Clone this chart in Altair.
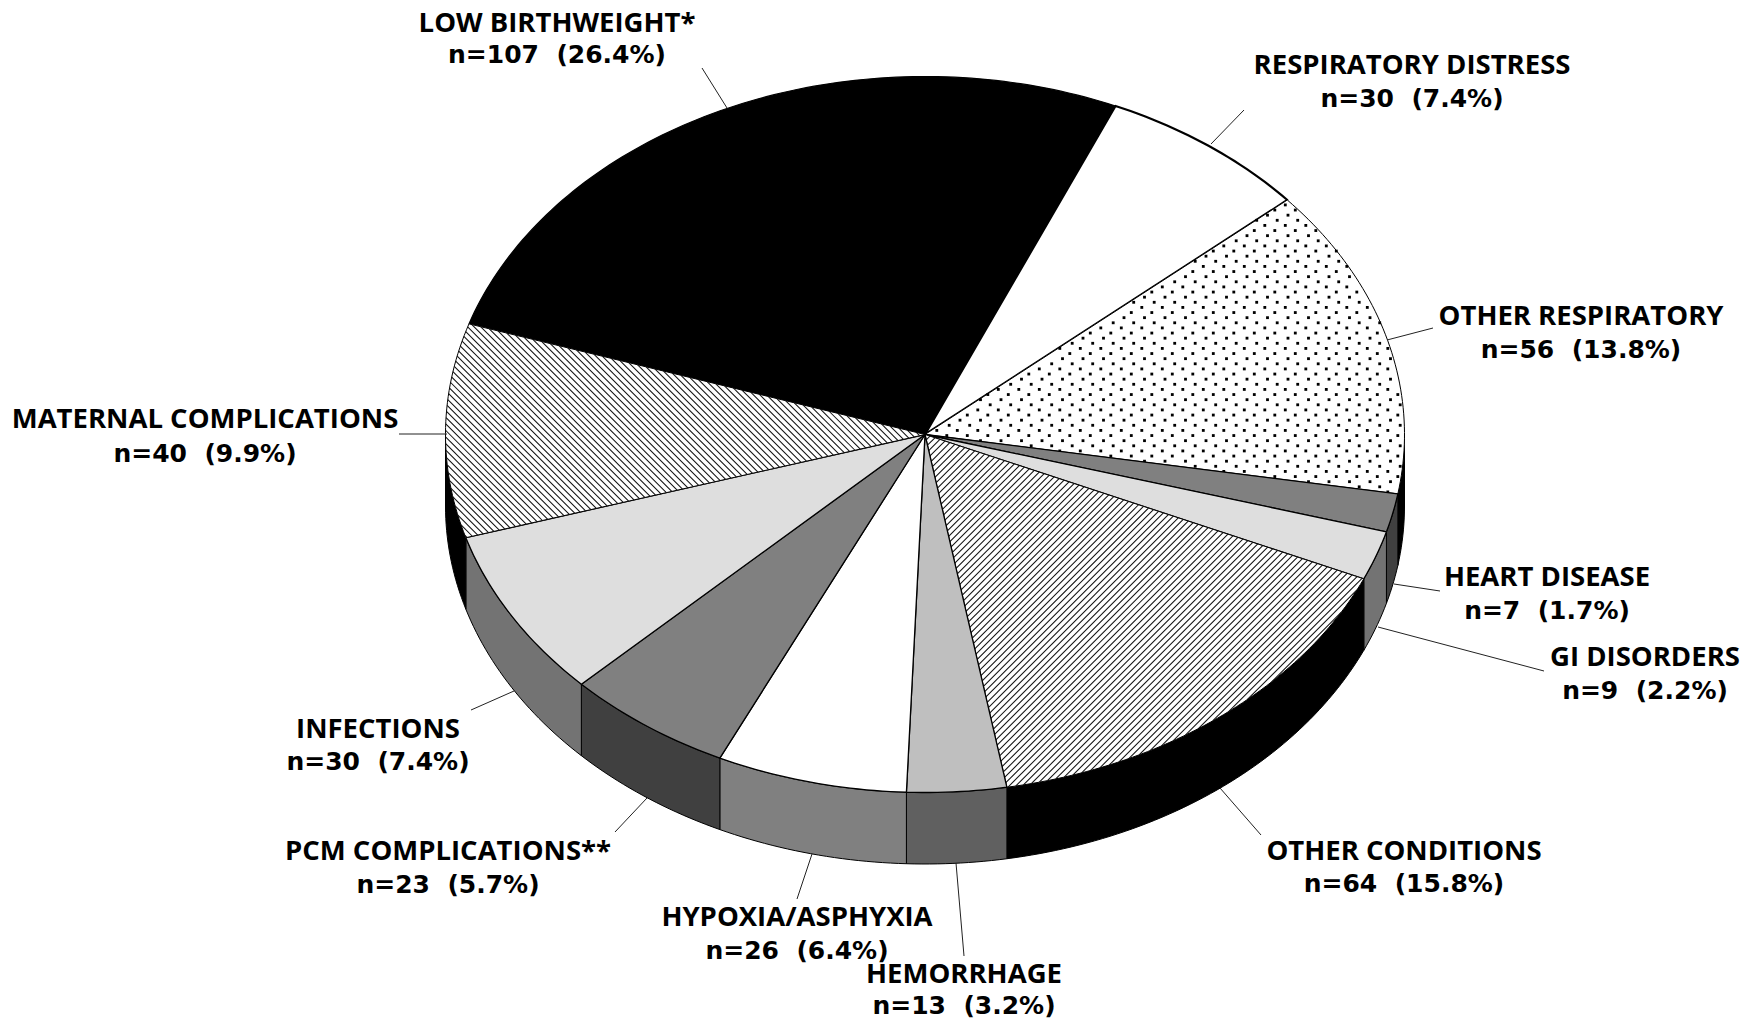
import math
import altair as alt
import pandas as pd

# ---- chart values ----
categories = ["LOW BIRTHWEIGHT*", "RESPIRATORY DISTRESS", "OTHER RESPIRATORY", "HEART DISEASE",
              "GI DISORDERS", "OTHER CONDITIONS", "HEMORRHAGE", "HYPOXIA/ASPHYXIA",
              "PCM COMPLICATIONS**", "INFECTIONS", "MATERNAL COMPLICATIONS"]
counts = [107, 30, 56, 7, 9, 64, 13, 26, 23, 30, 40]
percents = [26.4, 7.4, 13.8, 1.7, 2.2, 15.8, 3.2, 6.4, 5.7, 7.4, 9.9]

# ---- styles ----
top_colors = ["#000000", "#ffffff", "#ffffff", "#808080", "#dedede", "#ffffff", "#bfbfbf",
              "#ffffff", "#808080", "#dedede", "#ffffff"]
side_colors = ["#000000", "#000000", "#000000", "#404040", "#737373", "#000000", "#606060",
               "#808080", "#404040", "#737373", "#000000"]
top_widths = [1.2, 2.2, 1.0, 1.3, 1.3, 1.0, 1.3, 1.3, 1.3, 1.3, 1.0]
patterns = [None, None, "dots", None, None, "fwd", None, None, None, None, "back"]

# ---- layout (pixels of the picture) ----
CX, CY, RX, RY, DEPTH = 925.0, 434.5, 479.5, 358.0, 71.5
START = -162.0
edge_nudges = [0, 0.3, -0.7, 0, 0, 0, -0.5, 0, 0, 0, 0.8, 0]  # drawn edges differ slightly from exact shares
label_x = [557, 1412, 1581, 1547, 1645, 1404, 964, 797, 448, 378, 205]
label_y1 = [24, 66, 317, 578, 658, 852, 975, 918, 852, 730, 420]
label_y2 = [55, 99, 350, 611, 691, 884, 1006, 951, 885, 762, 454]
lead_x1 = [702, 1244, 1433, 1440, 1544, 1261, 964, 797, 615, 471, 399]
lead_y1 = [68, 110, 328, 591, 671, 835, 956, 899, 832, 710, 434]
lead_x2 = [727, 1211, 1387, 1394, 1378, 1220, 956, 812, 647, 514, 447]
lead_y2 = [108, 144, 340, 584, 627, 788, 863, 854, 798, 691, 434]

total = sum(counts)
edges = [START]
for c in counts:
    edges.append(edges[-1] + 360.0 * c / total)
edges = [e + n for e, n in zip(edges, edge_nudges)]


def pt(t, dy=0.0):
    r = math.radians(t)
    return CX + RX * math.cos(r), CY + RY * math.sin(r) + dy


def arc(a, b, dy=0.0):
    n = max(2, int(abs(b - a)) + 2)
    return [pt(a + (b - a) * i / (n - 1), dy) for i in range(n)]


X = alt.X("x:Q", axis=None, scale=alt.Scale(domain=[8, 1750], nice=False, zero=False))
Y = alt.Y("y:Q", axis=None, scale=alt.Scale(domain=[1019, 8], nice=False, zero=False))
X2, Y2 = alt.X2("x2"), alt.Y2("y2")


def poly_layer(points, fill, width):
    closed = list(points) + [points[0]]
    df = pd.DataFrame({"x": [p[0] for p in closed], "y": [p[1] for p in closed],
                       "i": list(range(len(closed)))})
    return alt.Chart(df).mark_line(fill=fill, stroke="#000000", strokeWidth=width,
                                   strokeJoin="round").encode(x=X, y=Y, order="i:Q")


def clip_segment(p, d, polygon):
    """Clip the infinite line p+s*d to a convex polygon."""
    lo, hi = -1e9, 1e9
    area = sum(polygon[i][0] * polygon[(i + 1) % len(polygon)][1]
               - polygon[(i + 1) % len(polygon)][0] * polygon[i][1] for i in range(len(polygon)))
    sign = 1 if area > 0 else -1
    for i in range(len(polygon)):
        a, b = polygon[i], polygon[(i + 1) % len(polygon)]
        ex, ey = b[0] - a[0], b[1] - a[1]
        nx, ny = -ey * sign, ex * sign
        num = nx * (p[0] - a[0]) + ny * (p[1] - a[1])
        den = nx * d[0] + ny * d[1]
        if abs(den) < 1e-12:
            if num < 0:
                return None
            continue
        s = -num / den
        if den > 0:
            lo = max(lo, s)
        else:
            hi = min(hi, s)
    return (lo, hi) if lo < hi else None


def inside(p, polygon):
    area = sum(polygon[i][0] * polygon[(i + 1) % len(polygon)][1]
               - polygon[(i + 1) % len(polygon)][0] * polygon[i][1] for i in range(len(polygon)))
    sign = 1 if area > 0 else -1
    for i in range(len(polygon)):
        a, b = polygon[i], polygon[(i + 1) % len(polygon)]
        if sign * ((b[0] - a[0]) * (p[1] - a[1]) - (b[1] - a[1]) * (p[0] - a[0])) < 1.5:
            return False
    return True


layers = []

# side wall: only the part of each slice facing the viewer
for k in range(len(counts)):
    a, b = edges[k], edges[k + 1]
    for off in (0, -360):
        lo, hi = max(a + off, 0.0), min(b + off, 180.0)
        if lo < hi:
            pts = arc(lo, hi) + arc(hi, lo, DEPTH)
            layers.append(poly_layer(pts, side_colors[k], 1.0))

# top faces with their textures
for k in range(len(counts)):
    a, b = edges[k], edges[k + 1]
    pts = [(CX, CY)] + arc(a, b)
    layers.append(poly_layer(pts, top_colors[k], top_widths[k]))
    kind = patterns[k]
    if kind in ("fwd", "back"):
        d = (1.0, -1.0) if kind == "fwd" else (1.0, 1.0)
        rows = []
        step = 6.6
        for j in range(-400, 400):
            p = (CX, CY + j * step)
            s = clip_segment(p, d, pts)
            if s:
                rows.append({"x": p[0] + s[0] * d[0], "y": p[1] + s[0] * d[1],
                             "x2": p[0] + s[1] * d[0], "y2": p[1] + s[1] * d[1]})
        layers.append(alt.Chart(pd.DataFrame(rows)).mark_rule(color="#111111", strokeWidth=1.05)
                      .encode(x=X, y=Y, x2=X2, y2=Y2))
    elif kind == "dots":
        offs = [15.7, 3.3, 13.3, 6.0]
        rows = []
        for r in range(-60, 60):
            yy = 343.3 + r * 5.125
            o = offs[r % 4]
            for c in range(-40, 40):
                xx = 1200 + o + c * 20.5
                if inside((xx, yy), pts):
                    rows.append({"x": xx, "y": yy})
        layers.append(alt.Chart(pd.DataFrame(rows)).mark_square(size=8, color="#000000", opacity=1)
                      .encode(x=X, y=Y))

# leader lines
lead = pd.DataFrame({"x": lead_x1, "y": lead_y1, "x2": lead_x2, "y2": lead_y2})
layers.append(alt.Chart(lead).mark_rule(color="#222222", strokeWidth=1.0).encode(x=X, y=Y, x2=X2, y2=Y2))

# labels
line1 = pd.DataFrame({"x": label_x, "y": label_y1, "t": categories})
line2 = pd.DataFrame({"x": label_x, "y": label_y2,
                      "t": [f"n={c}\u00a0\u00a0({p}%)" for c, p in zip(counts, percents)]})
txt = dict(fontWeight="bold", color="#000000", align="center", baseline="middle")
layers.append(alt.Chart(line1).mark_text(font="Open Sans", fontSize=27.5, **txt).encode(x=X, y=Y, text="t:N"))
layers.append(alt.Chart(line2).mark_text(font="DejaVu Sans", fontSize=25, **txt).encode(x=X, y=Y, text="t:N"))

chart = alt.layer(*layers).properties(
    width=1742, height=1011, padding=0, autosize=alt.AutoSizeParams(type="none"),
    background="#ffffff"
).configure_view(stroke=None)

chart.save("out.html", embed_options={"renderer": "svg", "actions": False})
